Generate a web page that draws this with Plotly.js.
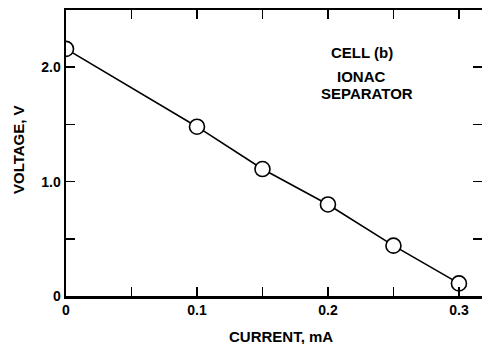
<!DOCTYPE html>
<html>
<head>
<meta charset="utf-8">
<script src="https://cdn.plot.ly/plotly-3.0.1.min.js"></script>
<style>html,body{margin:0;padding:0;background:#fff;overflow:hidden;}#chart{width:482px;height:344px;}</style>
</head>
<body>
<div id="chart"></div>
<script>
const current = [0, 0.1, 0.15, 0.2, 0.25, 0.3];
const voltage = [2.16, 1.48, 1.11, 0.80, 0.44, 0.11];
const xTickVals = [0, 0.05, 0.1, 0.15, 0.2, 0.25, 0.3];
const xTickText = ['0', '', '0.1', '', '0.2', '', '0.3'];
const yTickVals = [0, 0.5, 1.0, 1.5, 2.0];
const yTickText = ['0', '', '1.0', '', '2.0'];
const labelLines = ['CELL (b)', 'IONAC', 'SEPARATOR'];

const font = {family: 'Liberation Sans, Arial, sans-serif', color: '#000'};

const trace = {
  x: current, y: voltage,
  mode: 'lines+markers',
  type: 'scatter',
  line: {color: '#000', width: 1.6},
  marker: {symbol: 'circle', size: 15, color: '#fff', line: {color: '#000', width: 1.6}},
  cliponaxis: true,
  hoverinfo: 'none'
};

const annY = [0.853, 0.769, 0.708];
const annX = [0.712, 0.710, 0.723];
const annotations = labelLines.map((t, i) => ({
  text: '<b>' + t + '</b>',
  xref: 'paper', yref: 'paper', x: annX[i], y: annY[i],
  xanchor: 'center', yanchor: 'middle', showarrow: false,
  font: Object.assign({}, font, {size: 15})
}));
annotations.push({
  text: '<b>CURRENT, mA</b>', xref: 'paper', yref: 'paper',
  x: (281 - 66) / 416, y: -40 / 286, xanchor: 'center', yanchor: 'middle',
  showarrow: false, font: Object.assign({}, font, {size: 15})
});
annotations.push({
  text: '<b>VOLTAGE, V</b>', xref: 'paper', yref: 'paper', textangle: -90,
  x: -48 / 416, y: (296 - 150) / 286, xanchor: 'center', yanchor: 'middle',
  showarrow: false, font: Object.assign({}, font, {size: 15})
});

const layout = {
  width: 482, height: 344,
  margin: {l: 66, r: 0, t: 10, b: 48, pad: 0, autoexpand: false},
  paper_bgcolor: '#fff', plot_bgcolor: '#fff',
  showlegend: false,
  font: font,
  xaxis: {
    range: [0, 0.3176], showgrid: false, zeroline: false, automargin: false,
    showline: true, linecolor: '#000', linewidth: 2.5, mirror: 'allticks',
    ticks: 'inside', ticklen: 9, tickwidth: 1.5, tickcolor: '#000',
    tickvals: xTickVals, ticktext: xTickText,
    tickfont: Object.assign({}, font, {size: 14, weight: 'bold'})
  },
  yaxis: {
    range: [0, 2.5], showgrid: false, zeroline: false, automargin: false,
    showline: true, linecolor: '#000', linewidth: 2.5, mirror: 'allticks',
    ticks: 'inside', ticklen: 9, tickwidth: 1.5, tickcolor: '#000',
    tickvals: yTickVals, ticktext: yTickText,
    tickfont: Object.assign({}, font, {size: 14, weight: 'bold'})
  },
  annotations: annotations
};

Plotly.newPlot('chart', [trace], layout, {staticPlot: true, displayModeBar: false});
</script>
</body>
</html>
